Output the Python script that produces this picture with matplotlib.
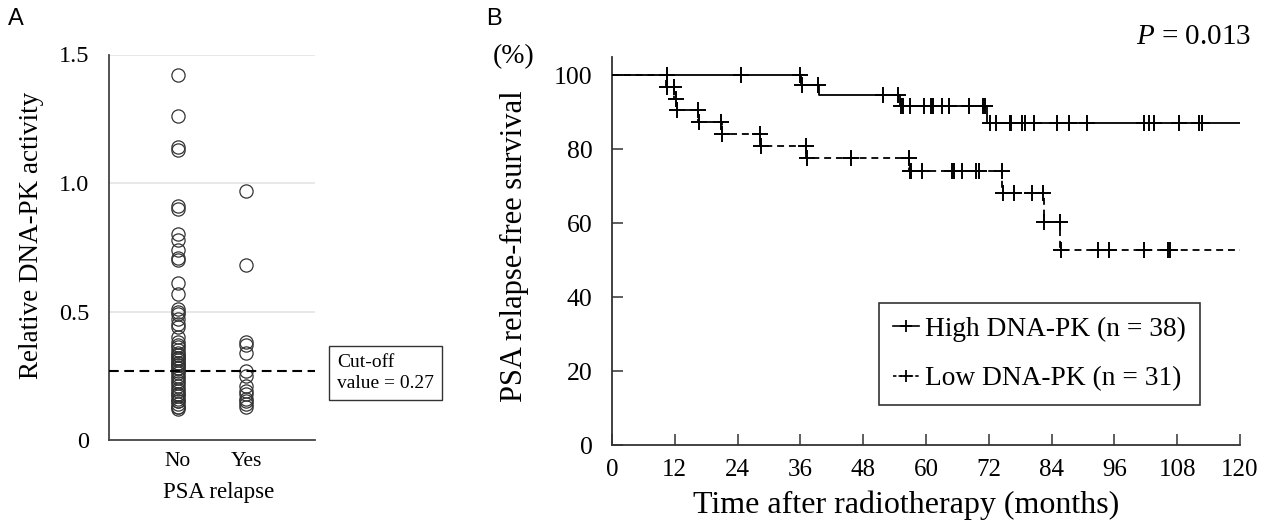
import numpy as np
import matplotlib
matplotlib.use("Agg")
import matplotlib.pyplot as plt
from matplotlib.lines import Line2D

plt.rcParams['font.family'] = ['Liberation Serif', 'DejaVu Serif']
plt.rcParams['mathtext.fontset'] = 'custom'
plt.rcParams['mathtext.it'] = 'Liberation Serif:italic'
plt.rcParams['mathtext.rm'] = 'Liberation Serif'
plt.rcParams['lines.scale_dashes'] = False

# ---------------- Panel A data ----------------
groups = ["No", "Yes"]
activity_no = [1.42, 1.26, 1.14, 1.13, 0.91, 0.90, 0.80, 0.78, 0.74, 0.71, 0.70,
               0.61, 0.57, 0.51, 0.50, 0.49, 0.47, 0.45, 0.44, 0.40, 0.38, 0.37,
               0.36, 0.35, 0.34, 0.33, 0.33, 0.32, 0.32, 0.31, 0.30, 0.30, 0.29,
               0.29, 0.28, 0.28, 0.27, 0.26, 0.25, 0.24, 0.23, 0.22, 0.21, 0.20,
               0.19, 0.18, 0.18, 0.17, 0.16, 0.15, 0.15, 0.14, 0.13, 0.13, 0.12]
activity_yes = [0.97, 0.68, 0.38, 0.37, 0.34, 0.27, 0.25, 0.21, 0.19, 0.18,
                0.16, 0.15, 0.14, 0.13]
cutoff = 0.27
a_yticks = [0, 0.5, 1.0, 1.5]
a_yticklabels = ["0", "0.5", "1.0", "1.5"]

# ---------------- Panel B data ----------------
high_step_t = [0, 36.2, 39.5, 55.0, 71.6]
high_step_s = [100, 97.3, 94.6, 91.7, 86.9]
high_end = 120
high_censor_t = [10.5, 24.7, 36.0, 36.4, 39.3, 51.8, 54.7, 55.3, 55.6, 56.9,
                 59.6, 60.9, 61.4, 63.1, 64.4, 68.2, 70.9, 71.3, 72.3, 73.3,
                 76.0, 76.3, 78.4, 79.0, 80.6, 85.1, 87.3, 90.8, 101.7, 102.6,
                 103.6, 108.4, 112.2, 112.8]

low_step_t = [0, 10.4, 11.9, 12.4, 16.5, 21.0, 28.3, 37.1, 56.8, 74.6, 82.5, 85.7]
low_step_s = [100, 96.8, 93.6, 90.5, 87.4, 84.0, 80.9, 77.5, 74.0, 68.0, 60.4, 52.7]
low_end = 120
low_censor_t = [10.5, 11.8, 12.3, 12.5, 16.4, 16.6, 20.9, 21.1, 28.2, 28.4,
                37.0, 37.2, 45.6, 56.7, 56.9, 57.2, 59.3, 65.0, 65.3, 66.9,
                69.5, 70.1, 74.5, 74.7, 76.9, 80.3, 82.4, 82.6, 85.6, 85.8,
                92.8, 95.0, 101.7, 106.3, 106.6]

b_xticks = list(range(0, 121, 12))
b_yticks = [0, 20, 40, 60, 80, 100]
legend_labels = ["High DNA-PK (n = 38)", "Low DNA-PK (n = 31)"]

W, H = 1284, 529
fig = plt.figure(figsize=(W / 100, H / 100), dpi=100)

def fx(px):
    return px / W

def fy(py):
    return (H - py) / H

# ---------------- Panel A ----------------
axA = fig.add_axes([fx(109), fy(440), fx(315) - fx(109), fy(54.5) - fy(440)])
axA.set_xlim(0, 3)
axA.set_ylim(0, 1.5)
for yv in a_yticks[1:]:
    axA.axhline(yv, color='#e4e4e4', lw=1.2, zorder=0)
for i, vals in enumerate([activity_no, activity_yes]):
    axA.plot(np.full(len(vals), i + 1), vals, 'o', ms=9.5, mfc='none',
             mec='#333333', mew=0.9, zorder=3)
axA.axhline(cutoff, color='black', lw=1.5, ls=(0, (7, 4)), zorder=4)
for s in ['top', 'right']:
    axA.spines[s].set_visible(False)
for s in ['left', 'bottom']:
    axA.spines[s].set_color('#444444')
    axA.spines[s].set_linewidth(1.3)
axA.set_yticks(a_yticks)
axA.set_yticklabels(a_yticklabels, fontsize=17.5)
axA.set_xticks([1, 2])
axA.set_xticklabels(groups, fontsize=15.5)
axA.tick_params(axis='y', length=0, pad=14)
axA.tick_params(axis='x', length=0, pad=9)
axA.set_ylabel("Relative DNA-PK activity", fontsize=19.5)
axA.yaxis.set_label_coords(-0.374, 0.532)
axA.yaxis.label.set_va('center')
axA.set_xlabel("PSA relapse", fontsize=16.5)
axA.xaxis.set_label_coords(0.534, -0.135)
axA.xaxis.label.set_va('center')

fig.text(fx(337), fy(373), "Cut-off\nvalue = 0.27", fontsize=14, ha='left',
         va='center', linespacing=1.3,
         bbox=dict(boxstyle='square,pad=0.4', fc='white', ec='#333333', lw=1.0))

fig.text(fx(16), fy(19), "A", fontsize=17, family=['Liberation Sans', 'DejaVu Sans'],
         ha='center', va='center')
fig.text(fx(494), fy(19), "B", fontsize=17, family=['Liberation Sans', 'DejaVu Sans'],
         ha='center', va='center')

# ---------------- Panel B ----------------
axB = fig.add_axes([fx(612), fy(445), fx(1240) - fx(612), fy(56.5) - fy(445)])
axB.set_xlim(0, 120)
axB.set_ylim(0, 105)

def step_xy(t, s, end):
    return list(t) + [end], list(s) + [s[-1]]

def level_at(t, s, ct):
    idx = np.searchsorted(np.asarray(t), np.asarray(ct), side='right') - 1
    return np.asarray(s)[idx]

hx, hy = step_xy(high_step_t, high_step_s, high_end)
lx, ly = step_xy(low_step_t, low_step_s, low_end)
axB.step(lx, ly, where='post', color='black', lw=1.3, ls=(0, (5, 3.5)), zorder=3)
axB.step(hx, hy, where='post', color='black', lw=1.3, zorder=4)
axB.plot(high_censor_t, level_at(high_step_t, high_step_s, high_censor_t), '+',
         color='black', ms=11, mew=1.4, zorder=5)
axB.plot(low_censor_t, level_at(low_step_t, low_step_s, low_censor_t), '+',
         color='black', ms=11, mew=1.4, zorder=5)

for s in ['top', 'right']:
    axB.spines[s].set_visible(False)
for s in ['left', 'bottom']:
    axB.spines[s].set_color('#333333')
    axB.spines[s].set_linewidth(1.3)
axB.set_xticks(b_xticks)
axB.set_xticklabels([str(v) for v in b_xticks], fontsize=18)
axB.set_yticks(b_yticks)
axB.set_yticklabels([str(v) for v in b_yticks], fontsize=18.5)
axB.tick_params(direction='in', length=8, width=1.1, color='#333333')
axB.tick_params(axis='y', pad=14)
axB.tick_params(axis='x', pad=10)
axB.set_xlabel("Time after radiotherapy (months)", fontsize=23)
axB.xaxis.set_label_coords(0.468, -0.154)
axB.xaxis.label.set_va('center')
axB.set_ylabel("PSA relapse-free survival", fontsize=22)
axB.yaxis.set_label_coords(-0.156, 0.512)
axB.yaxis.label.set_va('center')

fig.text(fx(514), fy(57), "(%)", fontsize=20, ha='center', va='center')
fig.text(fx(1251), fy(37), "$\\it{P}$ = 0.013", fontsize=21, ha='right', va='center')

handles = [Line2D([], [], color='black', lw=1.2, marker='+', ms=9, mew=1.3),
           Line2D([], [], color='black', lw=1.2, ls=(0, (2.5, 1.5)), marker='+', ms=9, mew=1.3)]
leg = axB.legend(handles, legend_labels, loc='lower right',
                 bbox_to_anchor=((1200 - 612) / 628, (445 - 405) / 388.5),
                 fontsize=19.7, frameon=True, fancybox=False, handlelength=0.95,
                 handletextpad=0.25, borderpad=0.5, labelspacing=0.9,
                 borderaxespad=0)
leg.get_frame().set_edgecolor('black')
leg.get_frame().set_linewidth(1.2)

fig.savefig("out.png", dpi=100)
